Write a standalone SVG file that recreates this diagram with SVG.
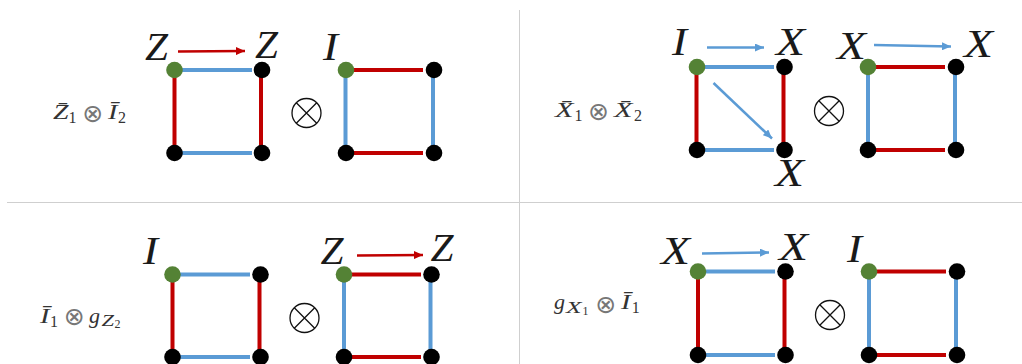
<svg xmlns="http://www.w3.org/2000/svg" width="1022" height="364" viewBox="0 0 1022 364">
<style>
.big{font:italic 41px "Liberation Serif",serif;fill:#1a1a1a}
.sm{font:italic 22px "Liberation Serif",serif;fill:#333}
.sub{font:16px "Liberation Serif",serif;fill:#333}
.subi{font:italic 16px "Liberation Serif",serif;fill:#333}
.tiny{font:12px "Liberation Serif",serif;fill:#333}
.op{font:25px "DejaVu Sans",sans-serif;fill:#777}
.b{stroke:#5b9bd5;stroke-width:4;fill:none}
.r{stroke:#c00000;stroke-width:4;fill:none}
.ab{stroke:#5b9bd5;stroke-width:2.500;fill:none;marker-end:url(#hb)}
.ar{stroke:#c00000;stroke-width:2.500;fill:none;marker-end:url(#hr)}
.k{fill:#000}
.g{fill:#548235}
.ot{fill:none;stroke:#111;stroke-width:1.300}
.div{stroke:#cfcfcf;stroke-width:1;fill:none}
</style>
<defs>
<marker id="hb" markerUnits="userSpaceOnUse" markerWidth="10" markerHeight="8" refX="9" refY="4" orient="auto"><path d="M0 0L9 4L0 8Z" fill="#5b9bd5"/></marker>
<marker id="hr" markerUnits="userSpaceOnUse" markerWidth="10" markerHeight="8" refX="9" refY="4" orient="auto"><path d="M0 0L9 4L0 8Z" fill="#c00000"/></marker>
</defs>
<g id="dividers">
<path class="div" d="M7 202.500H1022M519.500 10V364"/>
</g>
<g id="connectors">
<path class="b" d="M175 70H252M175 153H252"/>
<path class="r" d="M174.500 70V153M261 70V153"/>
<path class="r" d="M346 70H423M346 153H423"/>
<path class="b" d="M345.500 70V153M433 70V153"/>
<path class="ar" d="M178 51.500L245 51"/>
<path class="b" d="M697 67H774M697 150H774"/>
<path class="r" d="M696.500 67V150M783.500 67V150"/>
<path class="r" d="M868 67H945M868 150H945"/>
<path class="b" d="M868 67V150M955 67V150"/>
<path class="ab" d="M707 47.500L764 47.500"/>
<path class="ab" d="M713.500 83L772 138.500"/>
<path class="ab" d="M874 45L951 46.500"/>
<path class="b" d="M173 274.500H250M173 357H250"/>
<path class="r" d="M172.500 274.500V357M259.500 274.500V357"/>
<path class="r" d="M344 274.500H421M344 357H421"/>
<path class="b" d="M344 274.500V357M430.500 274.500V357"/>
<path class="ar" d="M357 255.500L423 255"/>
<path class="b" d="M698 271.500H775M698 355H775"/>
<path class="r" d="M698 271.500V355M784.500 271.500V355"/>
<path class="r" d="M869 271.500H946M869 355H946"/>
<path class="b" d="M869 271.500V355M956 271.500V355"/>
<path class="ab" d="M702 253.500L769 252.500"/>
</g>
<g id="p1-left">
<g id="p1-a"><circle class="g" cx="174.500" cy="70" r="8.300"/><text class="big" x="145" y="60" textLength="23" lengthAdjust="spacingAndGlyphs">Z</text></g>
<g id="p1-b"><circle class="k" cx="262" cy="70" r="8.300"/><text class="big" x="255" y="57.500" textLength="23" lengthAdjust="spacingAndGlyphs">Z</text></g>
<circle id="p1-c" class="k" cx="174.500" cy="153" r="8.300"/>
<circle id="p1-d" class="k" cx="262" cy="153" r="8.300"/>
</g>
<g id="p1-right">
<g id="p1-e"><circle class="g" cx="346" cy="70" r="8.300"/><text class="big" x="323" y="60" textLength="15" lengthAdjust="spacingAndGlyphs">I</text></g>
<circle id="p1-f" class="k" cx="434" cy="70" r="8.300"/>
<circle id="p1-g" class="k" cx="346" cy="153" r="8.300"/>
<circle id="p1-h" class="k" cx="434" cy="153" r="8.300"/>
</g>
<g id="p1-otimes"><circle class="ot" cx="306.500" cy="113" r="14.500"/><path class="ot" d="M296.300 102.800L316.700 123.200M316.700 102.800L296.300 123.200"/></g>
<g id="p1-label"><text class="sm" x="53" y="119" textLength="15.500" lengthAdjust="spacingAndGlyphs">Z̄</text><text class="sub" x="68.500" y="123">1</text><text class="op" x="82.200" y="121.700">⊗</text><text class="sm" x="108" y="119" textLength="9.500" lengthAdjust="spacingAndGlyphs">Ī</text><text class="sub" x="118" y="123">2</text></g>

<g id="p2-left">
<g id="p2-a"><circle class="g" cx="697" cy="67" r="8.300"/><text class="big" x="672" y="54.500" textLength="15" lengthAdjust="spacingAndGlyphs">I</text></g>
<g id="p2-b"><circle class="k" cx="784.500" cy="67" r="8.300"/><text class="big" x="776" y="54.500" textLength="29" lengthAdjust="spacingAndGlyphs">X</text></g>
<circle id="p2-c" class="k" cx="697" cy="150" r="8.300"/>
<g id="p2-d"><circle class="k" cx="784.500" cy="150" r="8.300"/><text class="big" x="775" y="186" textLength="29" lengthAdjust="spacingAndGlyphs">X</text></g>
</g>
<g id="p2-right">
<g id="p2-e"><circle class="g" cx="868" cy="67" r="8.300"/><text class="big" x="837" y="59" textLength="29" lengthAdjust="spacingAndGlyphs">X</text></g>
<g id="p2-f"><circle class="k" cx="956" cy="67" r="8.300"/><text class="big" x="964" y="57" textLength="29" lengthAdjust="spacingAndGlyphs">X</text></g>
<circle id="p2-g" class="k" cx="868" cy="150" r="8.300"/>
<circle id="p2-h" class="k" cx="956" cy="150" r="8.300"/>
</g>
<g id="p2-otimes"><circle class="ot" cx="829" cy="111" r="14.500"/><path class="ot" d="M818.800 100.800L839.200 121.200M839.200 100.800L818.800 121.200"/></g>
<g id="p2-label"><text class="sm" x="555" y="117" textLength="18.500" lengthAdjust="spacingAndGlyphs">X̄</text><text class="sub" x="574.500" y="121">1</text><text class="op" x="588" y="119.700">⊗</text><text class="sm" x="614" y="117" textLength="18.500" lengthAdjust="spacingAndGlyphs">X̄</text><text class="sub" x="634" y="121">2</text></g>

<g id="p3-left">
<g id="p3-a"><circle class="g" cx="172.500" cy="274.500" r="8.300"/><text class="big" x="143" y="264" textLength="15" lengthAdjust="spacingAndGlyphs">I</text></g>
<circle id="p3-b" class="k" cx="260.500" cy="274.500" r="8.300"/>
<circle id="p3-c" class="k" cx="172.500" cy="357" r="8.300"/>
<circle id="p3-d" class="k" cx="260.500" cy="357" r="8.300"/>
</g>
<g id="p3-right">
<g id="p3-e"><circle class="g" cx="344" cy="274.500" r="8.300"/><text class="big" x="320.500" y="264" textLength="23" lengthAdjust="spacingAndGlyphs">Z</text></g>
<g id="p3-f"><circle class="k" cx="431.500" cy="274.500" r="8.300"/><text class="big" x="430.500" y="261" textLength="23" lengthAdjust="spacingAndGlyphs">Z</text></g>
<circle id="p3-g" class="k" cx="344" cy="357" r="8.300"/>
<circle id="p3-h" class="k" cx="431.500" cy="357" r="8.300"/>
</g>
<g id="p3-otimes"><circle class="ot" cx="304.500" cy="318" r="14.500"/><path class="ot" d="M294.300 307.800L314.700 328.200M314.700 307.800L294.300 328.200"/></g>
<g id="p3-label"><text class="sm" x="40" y="322.700" textLength="9.500" lengthAdjust="spacingAndGlyphs">Ī</text><text class="sub" x="50" y="326.500">1</text><text class="op" x="63.700" y="325.400">⊗</text><text class="sm" x="89" y="322.700" textLength="11" lengthAdjust="spacingAndGlyphs">g</text><text class="subi" x="101.500" y="326" textLength="12.500" lengthAdjust="spacingAndGlyphs">Z</text><text class="tiny" x="114.500" y="328">2</text></g>

<g id="p4-left">
<g id="p4-a"><circle class="g" cx="698" cy="271.500" r="8.300"/><text class="big" x="661" y="264" textLength="29" lengthAdjust="spacingAndGlyphs">X</text></g>
<g id="p4-b"><circle class="k" cx="785.500" cy="271.500" r="8.300"/><text class="big" x="779" y="260" textLength="29" lengthAdjust="spacingAndGlyphs">X</text></g>
<circle id="p4-c" class="k" cx="698" cy="355" r="8.300"/>
<circle id="p4-d" class="k" cx="785.500" cy="355" r="8.300"/>
</g>
<g id="p4-right">
<g id="p4-e"><circle class="g" cx="869" cy="271.500" r="8.300"/><text class="big" x="847" y="261.500" textLength="15" lengthAdjust="spacingAndGlyphs">I</text></g>
<circle id="p4-f" class="k" cx="957" cy="271.500" r="8.300"/>
<circle id="p4-g" class="k" cx="869" cy="355" r="8.300"/>
<circle id="p4-h" class="k" cx="957" cy="355" r="8.300"/>
</g>
<g id="p4-otimes"><circle class="ot" cx="830" cy="315" r="14.500"/><path class="ot" d="M819.800 304.800L840.200 325.200M840.200 304.800L819.800 325.200"/></g>
<g id="p4-label"><text class="sm" x="554" y="309" textLength="11" lengthAdjust="spacingAndGlyphs">g</text><text class="subi" x="566" y="313" textLength="15.500" lengthAdjust="spacingAndGlyphs">X</text><text class="tiny" x="582.500" y="315">1</text><text class="op" x="595.300" y="313">⊗</text><text class="sm" x="621" y="309" textLength="9.500" lengthAdjust="spacingAndGlyphs">Ī</text><text class="sub" x="631.700" y="313">1</text></g>
</svg>
